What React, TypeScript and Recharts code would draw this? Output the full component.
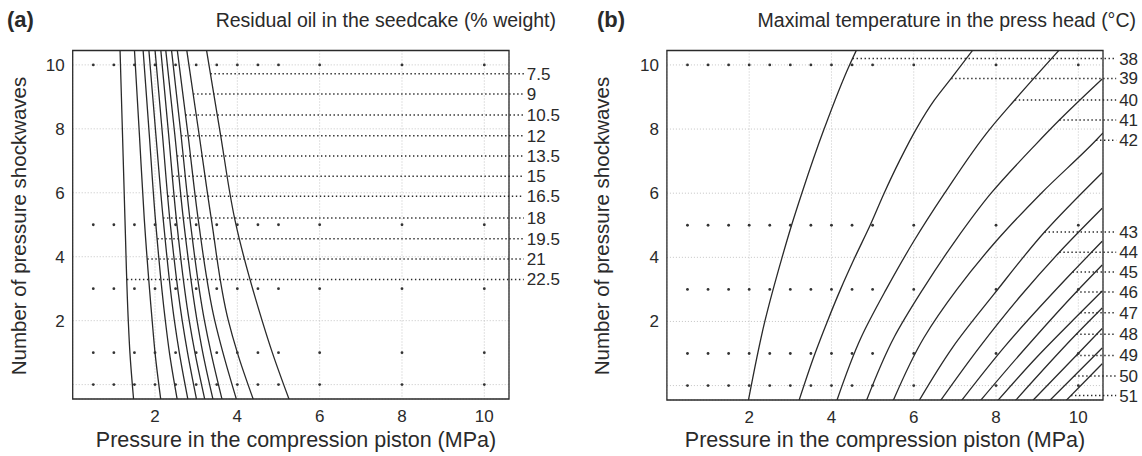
import React from "react";
import {
    ComposedChart,
    Line,
    Scatter,
    XAxis,
    YAxis,
    CartesianGrid,
    ReferenceLine,
    ReferenceArea,
} from "recharts";

// design points of the experiment (same in both panels)
const designPressure = [0.5, 1, 1.5, 2, 2.5, 3, 3.5, 4, 4.5, 5, 6, 8, 10];
const designShockwaves = [0, 1, 3, 5, 10];

const xTicks = [2, 4, 6, 8, 10];
const yTicks = [0, 2, 4, 6, 8, 10];
const xDomain = [0, 10.6];
const yDomain = [-0.45, 10.45];

// (a) residual oil contours, x read at fixed shockwave rows
const oilRowsY = [-0.47, 1.0, 2.01, 5.16, 7.83, 10.47];
const oilLevels = ["22.5", "21", "19.5", "18", "16.5", "15", "13.5", "12", "10.5", "9", "7.5"];
const oilCurveX = [
    [1.48, 1.39, 1.35, 1.27, 1.21, 1.15],
    [2.14, 2.0, 1.93, 1.74, 1.62, 1.5],
    [2.54, 2.35, 2.25, 2.01, 1.86, 1.71],
    [2.8, 2.59, 2.47, 2.2, 2.02, 1.85],
    [3.01, 2.79, 2.66, 2.36, 2.18, 2.0],
    [3.21, 2.97, 2.83, 2.52, 2.33, 2.14],
    [3.41, 3.16, 3.02, 2.69, 2.48, 2.26],
    [3.63, 3.36, 3.2, 2.85, 2.63, 2.4],
    [3.98, 3.65, 3.45, 3.05, 2.8, 2.54],
    [4.39, 4.0, 3.78, 3.37, 3.07, 2.77],
    [5.26, 4.85, 4.6, 3.94, 3.59, 3.25],
];
const oilLabelY = [3.29, 3.93, 4.56, 5.21, 5.89, 6.52, 7.15, 7.78, 8.43, 9.09, 9.72];

// (b) max temperature contours, [pressure, shockwaves]
const tempLevels = ["38", "39", "40", "41", "42", "43", "44", "45", "46", "47", "48", "49", "50", "51"];
const tempCurves = [
    [[1.98, -0.47], [2.38, 2.0], [2.8, 4.0], [3.03, 5.0], [3.28, 6.0], [3.82, 8.0], [4.44, 10.0], [4.61, 10.47]],
    [[3.21, -0.47], [3.6, 1], [3.9, 2], [4.22, 3], [4.57, 4], [4.94, 5], [5.28, 6], [5.65, 7], [6.06, 8], [6.5, 8.9], [6.91, 9.58], [7.44, 10.47]],
    [[4.13, -0.47], [4.72, 1.5], [5.33, 3], [6.0, 4.5], [6.75, 6], [7.85, 8], [8.45, 8.9], [9.54, 10.47]],
    [[4.85, -0.47], [5.52, 1.5], [6.22, 3], [7.0, 4.5], [7.88, 6], [8.95, 7.5], [9.54, 8.28], [10.58, 9.56]],
    [[5.5, -0.47], [6.25, 1.5], [7.05, 3], [8.0, 4.5], [9.1, 6], [10.43, 7.65], [10.6, 7.88]],
    [[6.13, -0.47], [6.95, 1.2], [7.95, 2.85], [9.18, 4.79], [10.58, 6.64]],
    [[6.65, -0.47], [7.6, 1.2], [8.6, 2.8], [9.54, 4.16], [10.58, 5.53]],
    [[7.16, -0.47], [8.2, 1.2], [9.86, 3.54], [10.58, 4.5]],
    [[7.62, -0.47], [8.6, 1.0], [9.95, 2.92], [10.58, 3.76]],
    [[8.04, -0.47], [9.0, 0.9], [10.05, 2.27], [10.58, 2.95]],
    [[8.47, -0.47], [9.95, 1.6], [10.58, 2.42]],
    [[8.89, -0.47], [9.95, 0.94], [10.58, 1.78]],
    [[9.3, -0.47], [9.9, 0.3], [10.58, 1.17]],
    [[9.7, -0.47], [10.58, 0.68]],
];
const tempLabelY = [10.2, 9.58, 8.91, 8.28, 7.65, 4.79, 4.16, 3.54, 2.92, 2.27, 1.6, 0.94, 0.3, -0.31];

const FONT = '"Liberation Sans", Arial, Helvetica, sans-serif';
const INK = "#2a2a2a";

type Pt = { x: number; y: number };

const designDots: Pt[] = designShockwaves.flatMap((y) => designPressure.map((x) => ({ x, y })));

// x where a contour crosses a given shockwave value
function crossX(pts: Pt[], y: number) {
    for (let i = 0; i < pts.length - 1; i++) {
        const a = pts[i];
        const b = pts[i + 1];
        if ((y - a.y) * (y - b.y) <= 0 && a.y !== b.y) {
            return a.x + ((b.x - a.x) * (y - a.y)) / (b.y - a.y);
        }
    }
    return pts[pts.length - 1].x;
}

const oilCurves: Pt[][] = oilCurveX.map((xs) => xs.map((x, i) => ({ x, y: oilRowsY[i] })));
const tempCurvesPts: Pt[][] = tempCurves.map((c) => c.map(([x, y]) => ({ x, y })));

const dotShape = (p: any) => <circle cx={p.cx} cy={p.cy} r={1.4} fill="#333" />;

interface PanelProps {
    curves: Pt[][];
    levels: string[];
    labelY: number[];
    leaderEnd: number;
    width: number;
    margin: { top: number; right: number; left: number; bottom: number };
}

function ContourPanel({ curves, levels, labelY, leaderEnd, width, margin }: PanelProps) {
    return (
        <ComposedChart width={width} height={456} margin={margin}>
            <CartesianGrid stroke="#c4c4c4" strokeDasharray="1 2" />
            <XAxis
                type="number"
                dataKey="x"
                domain={xDomain}
                ticks={xTicks}
                allowDataOverflow
                axisLine={false}
                tickLine={false}
                tickSize={0}
                tickMargin={11}
                height={30}
                tick={{ fontSize: 17, fill: INK, fontFamily: FONT }}
            />
            <YAxis
                type="number"
                domain={yDomain}
                ticks={yTicks}
                allowDataOverflow
                axisLine={false}
                tickLine={false}
                tickSize={0}
                tickMargin={8}
                width={40}
                tickFormatter={(v: number) => (v === 0 ? "" : String(v))}
                tick={{ fontSize: 17, fill: INK, fontFamily: FONT }}
            />
            <Scatter data={designDots} dataKey="y" shape={dotShape} isAnimationActive={false} />
            {curves.map((c, i) => (
                <Line
                    key={"c" + i}
                    data={c}
                    dataKey="y"
                    type="monotoneY"
                    stroke={INK}
                    strokeWidth={1.3}
                    dot={false}
                    activeDot={false}
                    isAnimationActive={false}
                />
            ))}
            {levels.map((lv, i) => (
                <ReferenceLine
                    key={"l" + i}
                    segment={[
                        { x: crossX(curves[i], labelY[i]), y: labelY[i] },
                        { x: leaderEnd, y: labelY[i] },
                    ]}
                    stroke={INK}
                    strokeWidth={1.5}
                    strokeDasharray="1.4 2.6"
                    ifOverflow="visible"
                    label={{ value: lv, position: "right", offset: 3, fontSize: 17, fill: INK, fontFamily: FONT }}
                />
            ))}
            <ReferenceArea
                x1={xDomain[0]}
                x2={xDomain[1]}
                y1={yDomain[0]}
                y2={yDomain[1]}
                fill="none"
                fillOpacity={0}
                stroke={INK}
                strokeWidth={1.3}
                ifOverflow="visible"
            />
        </ComposedChart>
    );
}

const txt: React.CSSProperties = {
    position: "absolute",
    fontFamily: FONT,
    color: INK,
    whiteSpace: "nowrap",
    lineHeight: 1,
};

export default function App() {
    return (
        <div style={{ position: "absolute", left: 0, top: 0, width: 1142, height: 456, background: "#fff", overflow: "hidden" }}>
            <div style={{ position: "absolute", left: 0, top: 0 }}>
                <ContourPanel
                    curves={oilCurves}
                    levels={oilLevels}
                    labelY={oilLabelY}
                    leaderEnd={10.96}
                    width={571}
                    margin={{ top: 50.5, right: 62, left: 32.7, bottom: 27 }}
                />
            </div>
            <div style={{ position: "absolute", left: 571, top: 0 }}>
                <ContourPanel
                    curves={tempCurvesPts}
                    levels={tempLevels}
                    labelY={tempLabelY}
                    leaderEnd={10.92}
                    width={571}
                    margin={{ top: 50.5, right: 39, left: 55.9, bottom: 26 }}
                />
            </div>

            <div style={{ ...txt, left: 7, top: 9, fontSize: 22, fontWeight: "bold" }}>(a)</div>
            <div style={{ ...txt, right: 1142 - 556, top: 11, fontSize: 19.5 }}>Residual oil in the seedcake (% weight)</div>
            <div style={{ ...txt, left: 597, top: 9, fontSize: 22, fontWeight: "bold" }}>(b)</div>
            <div style={{ ...txt, right: 6, top: 11, fontSize: 19.5 }}>Maximal temperature in the press head (°C)</div>

            <div style={{ ...txt, left: 296, top: 441, fontSize: 21.5, transform: "translate(-50%, -50%)" }}>
                Pressure in the compression piston (MPa)
            </div>
            <div style={{ ...txt, left: 885, top: 441, fontSize: 21.5, transform: "translate(-50%, -50%)" }}>
                Pressure in the compression piston (MPa)
            </div>
            <div style={{ ...txt, left: 19, top: 226, fontSize: 20.5, transform: "translate(-50%, -50%) rotate(-90deg)" }}>
                Number of pressure shockwaves
            </div>
            <div style={{ ...txt, left: 602, top: 226, fontSize: 20.5, transform: "translate(-50%, -50%) rotate(-90deg)" }}>
                Number of pressure shockwaves
            </div>
        </div>
    );
}
